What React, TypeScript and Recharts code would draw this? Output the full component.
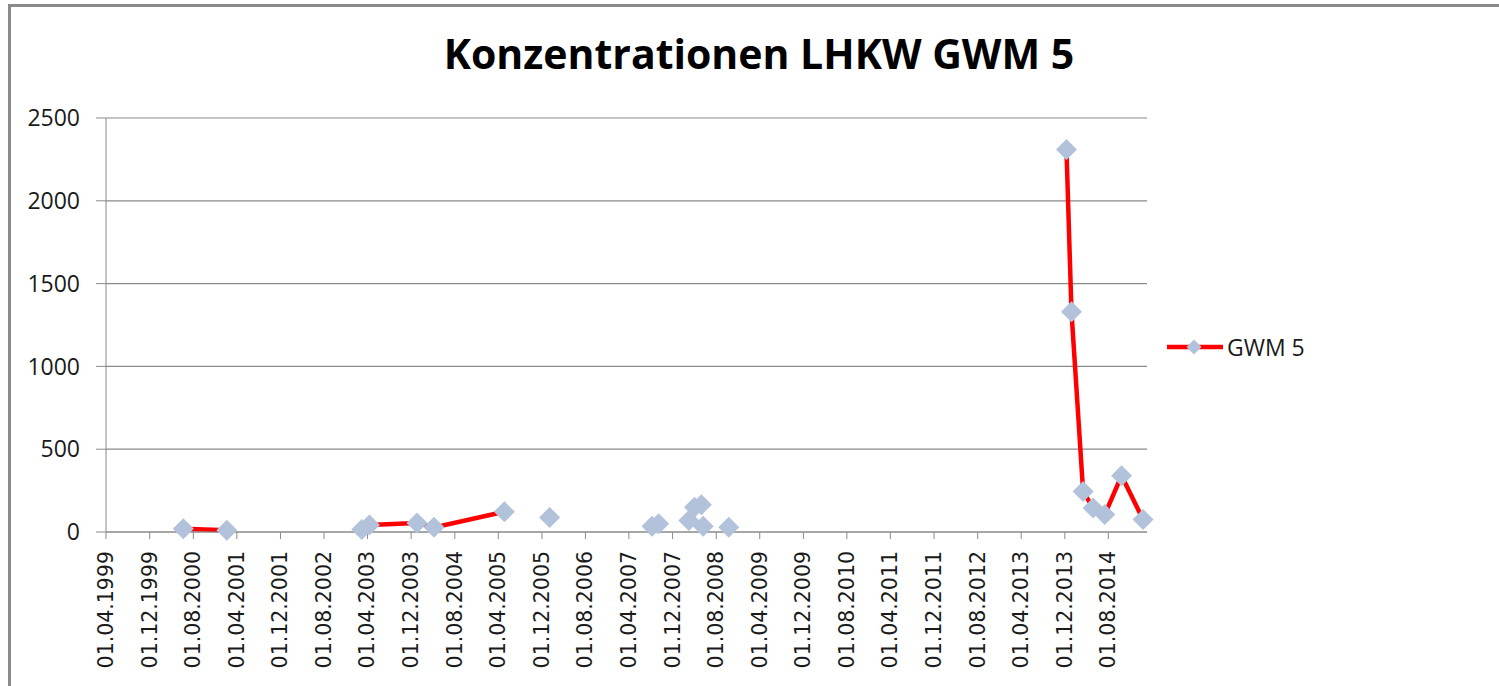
import React from "react";
import { LineChart, Line, XAxis, YAxis, CartesianGrid, Legend } from "recharts";

// sample dates (dd.mm.yyyy); null values mark gaps in the series
const sampleDates = [
  "01.04.1999", "06.06.2000", "04.02.2001", "01.01.2002", "28.02.2003", "12.04.2003",
  "03.01.2004", "07.04.2004", "05.05.2005", "01.09.2005", "13.01.2006", "01.06.2006",
  "08.08.2007", "25.08.2007", "14.09.2007", "01.12.2007", "01.03.2008", "15.03.2008",
  "01.04.2008", "20.04.2008", "10.05.2008", "15.05.2008", "20.05.2008", "01.07.2008",
  "10.10.2008", "01.01.2009", "10.12.2013", "07.01.2014", "13.03.2014", "08.05.2014",
  "12.07.2014", "14.10.2014", "11.02.2015",
];
const gwm5Values = [
  null, 20, 10, null, 15, 42,
  55, 28, 122, null, 88, null,
  35, null, 50, null, 70, null,
  150, null, 165, null, 35, null,
  28, null, 2310, 1330, 245, 145,
  105, 340, 75,
];
const xTickDates = [
  "01.04.1999", "01.12.1999", "01.08.2000", "01.04.2001", "01.12.2001", "01.08.2002",
  "01.04.2003", "01.12.2003", "01.08.2004", "01.04.2005", "01.12.2005", "01.08.2006",
  "01.04.2007", "01.12.2007", "01.08.2008", "01.04.2009", "01.12.2009", "01.08.2010",
  "01.04.2011", "01.12.2011", "01.08.2012", "01.04.2013", "01.12.2013", "01.08.2014",
];
const yTicks = [0, 500, 1000, 1500, 2000, 2500];
const axisEnd = "05.03.2015";

const parseDate = (s: string) => {
  const [d, m, y] = s.split(".").map(Number);
  return Date.UTC(y, m - 1, d);
};
const fmtDate = (t: number) => {
  const d = new Date(t);
  const p = (n: number) => String(n).padStart(2, "0");
  return `${p(d.getUTCDate())}.${p(d.getUTCMonth() + 1)}.${d.getUTCFullYear()}`;
};

const data = sampleDates.map((s, i) => ({ t: parseDate(s), value: gwm5Values[i] }));

const GRID = "#8a8a8a";
const MARKER = "#b3c2db";

const Diamond = (props: any) => {
  const { cx, cy, payload, index } = props;
  if (cx == null || cy == null || payload?.value == null) return <g key={index} />;
  const r = 10.5;
  return (
    <polygon
      key={index}
      points={`${cx},${cy - r} ${cx + r},${cy} ${cx},${cy + r} ${cx - r},${cy}`}
      fill={MARKER}
    />
  );
};

const DateTick = ({ x, y, payload }: any) => (
  <text
    transform={`translate(${x},${y + 10}) rotate(-90)`}
    textAnchor="end"
    dominantBaseline="central"
    fontFamily="DejaVu Sans"
    fontSize={20.5}
    fill="#1a1a1a"
  >
    {fmtDate(payload.value)}
  </text>
);

const renderLegend = () => (
  <div style={{ display: "flex", alignItems: "center", fontFamily: "Open Sans", fontSize: 23, color: "#1a1a1a" }}>
    <svg width={58} height={20}>
      <line x1={1} y1={10} x2={57} y2={10} stroke="#ff0000" strokeWidth={4.5} />
      <polygon points="28,2.5 35.5,10 28,17.5 20.5,10" fill={MARKER} />
    </svg>
    <span style={{ marginLeft: 3, lineHeight: "20px" }}>GWM 5</span>
  </div>
);

export default function App() {
  return (
    <div style={{ position: "absolute", left: 0, top: 0, width: 1499, height: 686, overflow: "hidden", background: "#fff" }}>
      <div
        style={{
          position: "absolute", left: 8, top: 4, width: 1491, height: 682,
          borderTop: "3px solid #8a8a8a", borderLeft: "3px solid #8a8a8a", boxSizing: "border-box",
        }}
      />
      <div
        style={{
          position: "absolute", left: 259, top: 33, width: 1000, textAlign: "center",
          fontFamily: "Open Sans", fontWeight: 700, fontSize: 41, lineHeight: "40px", color: "#000",
        }}
      >
        Konzentrationen LHKW GWM 5
      </div>
      <div style={{ position: "absolute", left: 0, top: 0 }}>
        <LineChart width={1499} height={686} data={data} margin={{ top: 118, right: 352, bottom: 0, left: 0 }}>
          <CartesianGrid vertical={false} stroke={GRID} strokeWidth={1.2} />
          <XAxis
            dataKey="t"
            type="number"
            scale="time"
            domain={[parseDate(xTickDates[0]), parseDate(axisEnd)]}
            ticks={xTickDates.map(parseDate)}
            interval={0}
            height={154}
            tickSize={7}
            tickMargin={2}
            stroke={GRID}
            tick={<DateTick />}
          />
          <YAxis
            type="number"
            domain={[0, 2500]}
            ticks={yTicks}
            width={106}
            tickSize={10}
            tickMargin={16}
            stroke={GRID}
            tick={{ fontFamily: "Open Sans", fontSize: 23, fill: "#1a1a1a" }}
          />
          <Legend
            layout="vertical"
            align="center"
            verticalAlign="middle"
            content={renderLegend}
            wrapperStyle={{ left: 1166, top: 337, width: 160, height: 20 }}
          />
          <Line
            type="linear"
            dataKey="value"
            name="GWM 5"
            stroke="#ff0000"
            strokeWidth={4.5}
            dot={<Diamond />}
            activeDot={false}
            isAnimationActive={false}
          />
        </LineChart>
      </div>
    </div>
  );
}
